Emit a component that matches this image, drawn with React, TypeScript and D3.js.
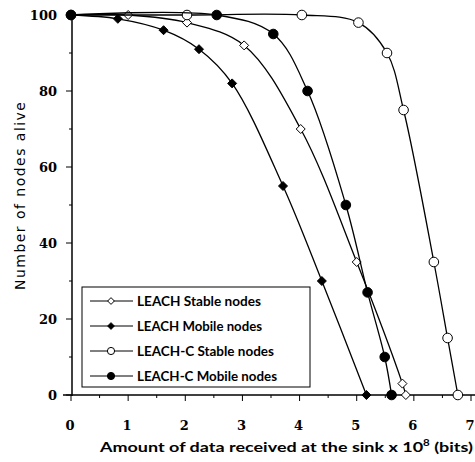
import React from "react";
import * as d3 from "d3";

const xTicks = [0, 1, 2, 3, 4, 5, 6, 7];
const yTicks = [0, 20, 40, 60, 80, 100];

const leachStableX = [0, 1, 2.03, 3.03, 4.02, 5.0, 5.8, 5.86];
const leachStableY = [100, 100, 98, 92, 70, 35, 3, 0];

const leachMobileX = [0, 0.82, 1.62, 2.24, 2.82, 3.71, 4.39, 5.17];
const leachMobileY = [100, 99, 96, 91, 82, 55, 30, 0];

const leachCStableX = [0, 2.03, 4.04, 5.03, 5.53, 5.82, 6.35, 6.59, 6.77];
const leachCStableY = [100, 100, 100, 98, 90, 75, 35, 15, 0];

const leachCMobileX = [0, 2.55, 3.54, 4.14, 4.81, 5.19, 5.49, 5.61];
const leachCMobileY = [100, 100, 95, 80, 50, 27, 10, 0];

const seriesNames = [
  "LEACH Stable nodes",
  "LEACH Mobile nodes",
  "LEACH-C Stable nodes",
  "LEACH-C Mobile nodes",
];

type Marker = "diamondOpen" | "diamondFilled" | "circleOpen" | "circleFilled";

const series: { name: string; xs: number[]; ys: number[]; marker: Marker }[] = [
  { name: seriesNames[0], xs: leachStableX, ys: leachStableY, marker: "diamondOpen" },
  { name: seriesNames[1], xs: leachMobileX, ys: leachMobileY, marker: "diamondFilled" },
  { name: seriesNames[2], xs: leachCStableX, ys: leachCStableY, marker: "circleOpen" },
  { name: seriesNames[3], xs: leachCMobileX, ys: leachCMobileY, marker: "circleFilled" },
];

function MarkerShape({ type, x, y, k = 1 }: { type: Marker; x: number; y: number; k?: number }) {
  if (type === "diamondOpen" || type === "diamondFilled") {
    const s = 4.5 * k;
    const d = `M${x},${y - s}L${x + s},${y}L${x},${y + s}L${x - s},${y}Z`;
    return (
      <path
        d={d}
        fill={type === "diamondFilled" ? "#000" : "#fff"}
        stroke="#000"
        strokeWidth={1}
      />
    );
  }
  return (
    <circle
      cx={x}
      cy={y}
      r={4.8 * k}
      fill={type === "circleFilled" ? "#000" : "#fff"}
      stroke="#000"
      strokeWidth={1}
    />
  );
}

export default function App() {
  const W = 475;
  const H = 462;
  const x = d3.scaleLinear().domain([0, 7]).range([71, 471]);
  const y = d3.scaleLinear().domain([0, 100]).range([395, 15]);

  const line = d3
    .line<[number, number]>()
    .x((d) => x(d[0]))
    .y((d) => y(d[1]))
    .curve(d3.curveCatmullRom.alpha(0.5));

  const xMinor = d3.range(0, 7).map((i) => i + 0.5);
  const yMinor = d3.range(10, 100, 20);

  const legendX = 82;
  const legendY = 287;
  const legendW = 228;
  const legendH = 100;
  const rowYs = [301, 326, 351, 376];

  return (
    <svg
      width={W}
      height={H}
      style={{ position: "absolute", left: 0, top: 0, background: "#fff" }}
    >
      <rect x={0} y={0} width={W} height={H} fill="#fff" />
      {/* axes */}
      <line x1={72} x2={72} y1={14} y2={396} stroke="#000" strokeWidth={1.5} />
      <line x1={63} x2={475} y1={395} y2={395} stroke="#000" strokeWidth={1.5} />
      {yTicks.map((t) => (
        <line key={"yt" + t} x1={66} x2={72} y1={y(t)} y2={y(t)} stroke="#000" strokeWidth={1} />
      ))}
      {yMinor.map((t) => (
        <line key={"ym" + t} x1={69} x2={72} y1={y(t)} y2={y(t)} stroke="#000" strokeWidth={1} />
      ))}
      {xTicks.map((t) => (
        <line key={"xt" + t} x1={x(t)} x2={x(t)} y1={395} y2={401} stroke="#000" strokeWidth={1} />
      ))}
      {xMinor.map((t) => (
        <line key={"xm" + t} x1={x(t)} x2={x(t)} y1={395} y2={398} stroke="#000" strokeWidth={1} />
      ))}
      {yTicks.map((t) => (
        <text
          key={"yl" + t}
          x={57}
          y={y(t) + 5}
          textAnchor="end"
          fontFamily="DejaVu Serif"
          fontWeight="bold"
          fontSize={13}
        >
          {t}
        </text>
      ))}
      {xTicks.map((t) => (
        <text
          key={"xl" + t}
          x={x(t) - 1}
          y={430}
          textAnchor="middle"
          fontFamily="DejaVu Serif"
          fontWeight="bold"
          fontSize={13}
        >
          {t}
        </text>
      ))}
      <text
        transform={`translate(25,102) rotate(-90)`}
        x={-188}
        y={0}
        fontFamily="DejaVu Sans"
        fontSize={14}
        textLength={188}
        lengthAdjust="spacing"
      >
        Number of nodes alive
      </text>
      <text
        x={100}
        y={452}
        fontFamily="Lato"
        fontWeight="bold"
        fontSize={14}
        textLength={373}
        lengthAdjust="spacingAndGlyphs"
      >
        Amount of data received at the sink  x 10
        <tspan dy={-6} fontSize={9}>8</tspan>
        <tspan dy={6}> (bits)</tspan>
      </text>

      {/* series */}
      {series.map((s) => {
        const pts: [number, number][] = s.xs.map((v, i) => [v, s.ys[i]]);
        return (
          <g key={s.name}>
            <path d={line(pts) || ""} fill="none" stroke="#000" strokeWidth={1.3} />
            {pts.map((p, i) => (
              <MarkerShape key={i} type={s.marker} x={x(p[0])} y={y(p[1])} />
            ))}
          </g>
        );
      })}

      {/* legend */}
      <rect
        x={legendX}
        y={legendY}
        width={legendW}
        height={legendH}
        fill="#fff"
        stroke="#000"
        strokeWidth={1}
      />
      {series.map((s, i) => (
        <g key={"lg" + i}>
          <line x1={90} x2={133} y1={rowYs[i]} y2={rowYs[i]} stroke="#000" strokeWidth={1} />
          <MarkerShape type={s.marker} x={111} y={rowYs[i]} k={0.75} />
          <text
            x={137}
            y={rowYs[i] + 5}
            fontFamily="Lato"
            fontWeight="bold"
            fontSize={14}
            textLength={[124, 125, 137, 140][i]}
            lengthAdjust="spacingAndGlyphs"
          >
            {s.name}
          </text>
        </g>
      ))}
    </svg>
  );
}
